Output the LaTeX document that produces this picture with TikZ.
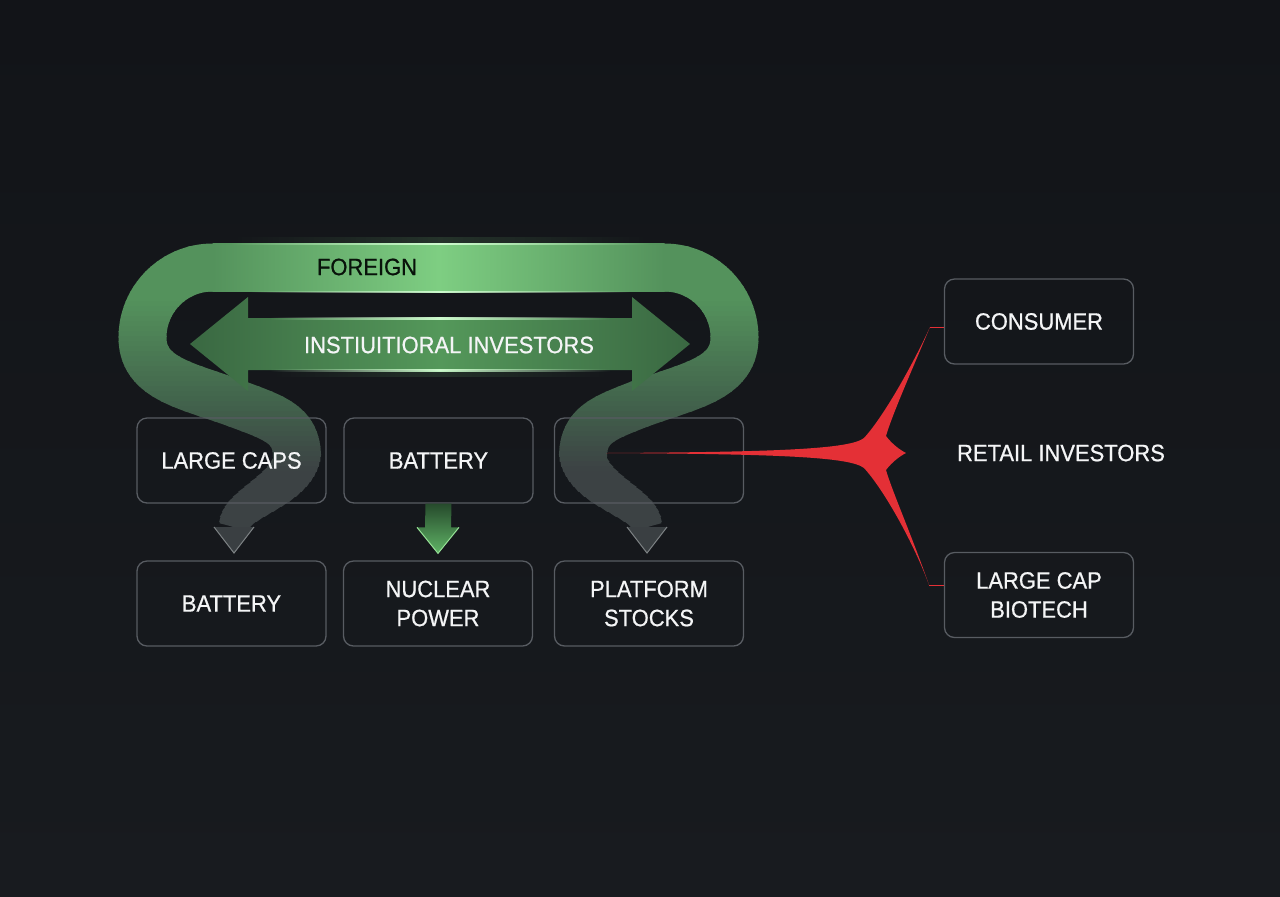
\documentclass[tikz,border=0pt]{standalone}
\usepackage{fontspec}
\setmainfont{Liberation Sans}[FakeBold=0.7, FakeStretch=0.93]
\usetikzlibrary{fadings,calc}
\definecolor{bgTop}{RGB}{18,20,24}
\definecolor{bgBot}{RGB}{24,27,31}
\definecolor{boxline}{RGB}{88,92,98}
\definecolor{txt}{RGB}{244,245,246}
\definecolor{gA}{RGB}{84,146,92}
\definecolor{gB}{RGB}{66,100,76}
\definecolor{gC}{RGB}{60,66,68}
\definecolor{gBright}{RGB}{126,206,130}
\definecolor{glow}{RGB}{205,250,205}
\definecolor{arrD}{RGB}{58,104,66}
\definecolor{arrM}{RGB}{84,152,90}
\definecolor{redS}{RGB}{228,48,54}
\definecolor{headFill}{RGB}{58,63,66}
\definecolor{headLine}{RGB}{125,130,132}
\definecolor{midTop}{RGB}{38,74,44}
\definecolor{midBot}{RGB}{96,180,102}
\definecolor{darktext}{RGB}{8,18,10}
\tikzfading[name=fadelr, left color=transparent!100, right color=transparent!100, middle color=transparent!0]
\begin{document}
\begin{tikzpicture}[x=0.5pt,y=-0.5pt,
  box/.style={draw=boxline, line width=0.65pt, rounded corners=5pt, minimum width=94.5pt, minimum height=42.5pt, text=txt, font=\fontsize{11.8}{14.5}\selectfont, align=center, inner sep=0pt},
  lbl/.style={text=txt, font=\fontsize{11.8}{14.5}\selectfont, inner sep=0pt},
  grayhead/.style={fill=headFill},
  headedge/.style={draw=headLine, line width=0.5pt},
  glowline/.style={fill=glow, path fading=fadelr}]
\shade[top color=bgTop, bottom color=bgBot] (0,0) rectangle (1280,896);
\useasboundingbox (0,0) rectangle (1280,896);

% band path
\path[save path=\bandP] (234,527) .. controls (236,505) and (298,490) .. (297,455)
 .. controls (296,425) and (275,418) .. (240,405)
 .. controls (190,386) and (142.5,380) .. (142.5,337.5)
 .. controls (142.5,298.9) and (173.9,267.5) .. (212.5,267.5)
 -- (664.5,267.5)
 .. controls (703.1,267.5) and (734.5,298.9) .. (734.5,337.5)
 .. controls (734.5,380) and (687,386) .. (637,405)
 .. controls (604,418) and (584,425) .. (583,455)
 .. controls (582,490) and (645,505) .. (647,527);

\foreach \i in {0,...,60}{
  \pgfmathsetmacro\ya{236+5*\i}
  \pgfmathsetmacro\yb{\ya+5.6}
  \pgfmathsetmacro\ym{\ya+2.5}
  \pgfmathsetmacro\pa{max(0,min(100,(\ym-300)))}
  \pgfmathsetmacro\pb{max(0,min(100,100*(\ym-400)/70))}
  \pgfmathsetmacro\lw{\ym<455 ? 24 : max(14.5, 24-9.5*(\ym-455)/72)}
  \colorlet{tA}{gB!\pa!gA}
  \colorlet{tB}{gC!\pb!tA}
  \begin{scope}
    \clip (0,\ya) rectangle (1280,\yb);
    \draw[line width=\lw pt, draw=tB, use path=\bandP];
  \end{scope}
}
% bright centre of the top band
\shade[left color=gA, right color=gA, middle color=gBright] (212.5,243.5) rectangle (664.5,291.5);
\fill[gBright, opacity=0.16, path fading=fadelr] (230,237) rectangle (650,244);
\fill[glowline] (230,242.5) rectangle (650,245);
\fill[glowline] (250,290.5) rectangle (630,293);

% double arrow
\shade[left color=arrD, right color=arrD, middle color=arrM] (190,344) -- (248,297) -- (248,318) -- (632,318) -- (632,297) -- (690,344) -- (632,391) -- (632,370) -- (248,370) -- (248,391) -- cycle;
\fill[glowline] (270,317) rectangle (610,319.5);
\fill[glowline] (270,369) rectangle (610,371.5);
\fill[gBright, opacity=0.14, path fading=fadelr] (270,371) rectangle (610,377);

% gray arrow heads
\coordinate (lt) at (234,553);
\coordinate (rt) at (647,553);
\fill[grayhead] (214,527) -- (254,527) -- (lt) -- cycle;
\draw[headedge] (214,527) -- (lt) -- (254,527);
\fill[grayhead] (627,527) -- (667,527) -- (rt) -- cycle;
\draw[headedge] (627,527) -- (rt) -- (667,527);

% boxes
\node[box] (lc) at (231.5,460.5) {LARGE CAPS};
\node[box] (bt) at (438.5,460.5) {BATTERY};
\node[box] (em) at (649,460.5) {};
\node[box] (bb) at (231.5,603.5) {BATTERY};
\node[box] (np) at (438,603.5) {NUCLEAR\\POWER};
\node[box] (ps) at (649,603.5) {PLATFORM\\STOCKS};
\node[box] (cons) at (1039,321.5) {CONSUMER};
\node[box] (bio) at (1039,595) {LARGE CAP\\BIOTECH};

% middle green arrow
\coordinate (ma) at (bt.south);
\coordinate (mb) at ($(np.north)+(0,-7)$);
\shade[top color=midTop, bottom color=midBot] ($(ma)+(-13,0)$) -- ($(ma)+(13,0)$) -- ($(mb)+(13,-26)$) -- ($(mb)+(21,-26)$) -- (mb) -- ($(mb)+(-21,-26)$) -- ($(mb)+(-13,-26)$) -- cycle;
\draw[draw={rgb,255:red,150;green,225;blue,150}, line width=0.5pt] ($(mb)+(21,-26)$) -- (mb) -- ($(mb)+(-21,-26)$);

% red star
\coordinate (ut) at (930,327);
\coordinate (dt) at (929,585);
\fill[redS] (606,453) .. controls (780,452) and (850,449) .. (864,438)
 .. controls (885,415) and (915,360) .. (ut)
 .. controls (912,370) and (892,415) .. (886,436)
 .. controls (892,444) and (900,450) .. (906,453)
 .. controls (900,456) and (892,462) .. (886,470)
 .. controls (892,491) and (912,536) .. (dt)
 .. controls (915,546) and (885,491) .. (864,468)
 .. controls (850,457) and (780,454) .. cycle;
\draw[redS, line width=0.5pt] (ut) -- (ut -| cons.west);
\draw[redS, line width=0.5pt] (dt) -- (dt -| bio.west);

% labels
\node[lbl, text=darktext] (foreign) at (367,267) {FOREIGN};
\node[lbl] (inst) at (449,345) {INSTIUITIORAL INVESTORS};
\node[lbl] (retail) at (1061,453) {RETAIL INVESTORS};
\end{tikzpicture}
\end{document}
